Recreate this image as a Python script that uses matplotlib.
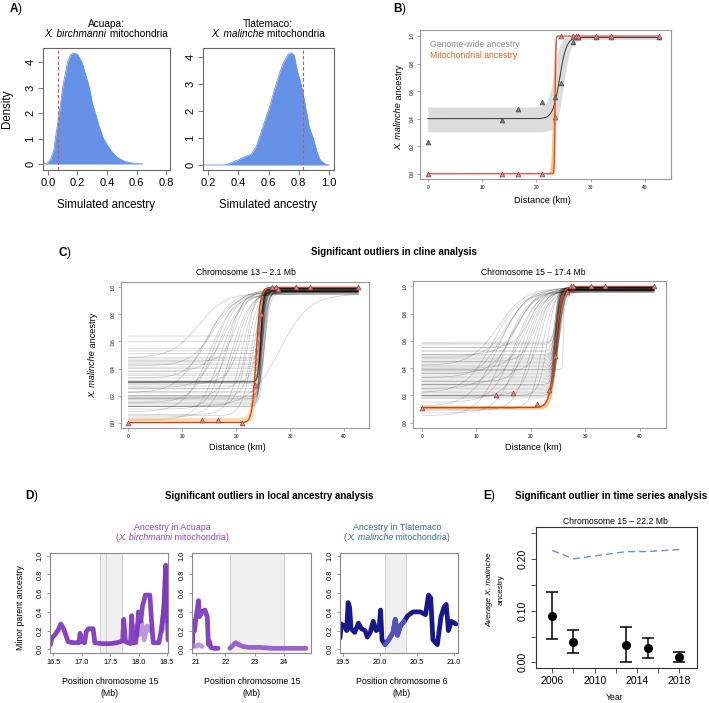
import numpy as np
import matplotlib
matplotlib.use("Agg")
import matplotlib.pyplot as plt

plt.rcParams['font.family'] = ['Liberation Sans', 'DejaVu Sans']
plt.rcParams['mathtext.fontset'] = 'custom'
plt.rcParams['mathtext.rm'] = 'Liberation Sans'
plt.rcParams['mathtext.it'] = 'Liberation Sans:italic'
plt.rcParams['mathtext.bf'] = 'Liberation Sans:bold'

# ---------------- DATA ----------------
# Panel A: simulated ancestry densities
acuapa_x = [-0.03, 0.0, 0.02, 0.04, 0.05, 0.077, 0.10, 0.133, 0.155, 0.177, 0.20, 0.23, 0.255,
            0.28, 0.30, 0.32, 0.345, 0.375, 0.40, 0.43, 0.47, 0.52, 0.57, 0.64]
acuapa_d = [0.0, 0.05, 0.2, 0.55, 1.0, 2.0, 3.0, 4.0, 4.3, 4.35, 4.3, 4.0, 3.5,
            3.0, 2.4, 2.0, 1.5, 1.0, 0.75, 0.5, 0.25, 0.1, 0.04, 0.0]
acuapa_obs = 0.07
tlat_x = [0.17, 0.30, 0.33, 0.37, 0.41, 0.45, 0.49, 0.52, 0.55, 0.58, 0.61, 0.64, 0.67, 0.70,
          0.73, 0.75, 0.77, 0.79, 0.81, 0.83, 0.85, 0.87, 0.895, 0.92, 0.94, 0.97, 1.0]
tlat_d = [0.0, 0.0, 0.03, 0.12, 0.22, 0.32, 0.42, 0.7, 1.2, 1.7, 2.2, 2.8, 3.35, 3.8,
          4.1, 4.15, 4.05, 3.5, 3.1, 2.6, 2.0, 1.4, 1.0, 0.5, 0.2, 0.05, 0.0]
tlat_obs = 0.825

# Sampling sites (km) and observed ancestry
sites = [0, 13.6, 16.7, 21.1, 23.4, 24.5, 26.7, 27.3, 27.7, 31.0, 33.7, 42.6]
genome_wide = [0.23, 0.39, 0.47, 0.52, 0.56, 0.66, 0.96, 0.99, 0.99, 0.99, 0.99, 0.99]
mito = [0.0, 0.0, 0.0, 0.0, 0.41, 1.0, 1.0, 1.0, 1.0, 1.0, 1.0, 1.0]
chr13_obs = [0.0, 0.02, 0.02, 0.0, 0.28, 0.80, 1.0, 1.0, 0.985, 1.0, 1.0, 1.0]
chr15_obs = [0.11, 0.205, 0.215, 0.14, 0.24, 0.49, 0.96, 1.0, 1.0, 1.0, 1.0, 1.0]

# Cline fits: (pmin, pmax, center, width)
gw_fit = (0.40, 0.99, 24.3, 2.5)
gw_band_hi = (0.485, 1.0, 23.3, 2.2)
gw_band_lo = (0.305, 0.975, 25.0, 2.5)
mito_fit = (0.0, 1.0, 23.45, 0.25)
mito_band_hi = (0.0, 1.0, 23.0, 0.6)
mito_band_lo = (0.0, 1.0, 23.55, 0.2)

chr13_fit = (0.0, 1.0, 23.7, 1.5)
chr13_band_hi = (0.035, 1.0, 23.4, 1.6)
chr13_band_lo = (0.0, 0.985, 24.0, 1.4)
chr15_fit = (0.11, 1.0, 24.5, 2.2)
chr15_band_hi = (0.125, 1.0, 24.3, 2.2)
chr15_band_lo = (0.10, 0.99, 24.8, 2.0)

c13_pmin = [0.64, 0.60, 0.55, 0.53, 0.51, 0.48, 0.47, 0.46, 0.44, 0.43, 0.41, 0.40, 0.38, 0.36, 0.35,
            0.33, 0.31, 0.30, 0.30, 0.30, 0.30, 0.30, 0.30, 0.30, 0.29, 0.27, 0.25, 0.23, 0.22, 0.20,
            0.19, 0.19, 0.18, 0.18, 0.17, 0.16, 0.15, 0.14, 0.13, 0.12, 0.12,
            0.02, 0.04, 0.06, 0.08, 0.10, 0.12, 0.15, 0.18, 0.22, 0.26, 0.28, 0.30, 0.33, 0.38, 0.42,
            0.45, 0.48, 0.25, 0.20, 0.12, 0.30, 0.05]
c13_pmax = [0.97, 0.96, 0.98, 0.97, 0.99, 0.98, 0.96, 0.98, 0.97, 0.99, 0.98, 0.97, 0.99, 0.98, 0.97,
            0.99, 0.98, 0.99, 0.99, 0.99, 0.99, 0.99, 0.99, 0.99, 0.98, 0.97, 0.99, 0.98, 0.96, 0.99,
            0.98, 0.97, 0.99, 0.98, 0.97, 0.99, 0.98, 0.96, 0.99, 0.98, 0.97,
            0.96, 0.97, 0.98, 0.95, 0.97, 0.96, 0.98, 0.97, 0.95, 0.96, 0.98, 0.97, 0.96, 0.95, 0.97,
            0.98, 0.96, 0.97, 0.98, 0.95, 0.98, 0.97]
c13_center = [24.6, 24.9, 24.4, 24.7, 24.3, 24.8, 25.1, 24.5, 24.9, 24.4, 25.2, 24.6, 24.8, 25.0, 24.5,
              24.7, 24.6, 24.5, 24.6, 24.7, 24.5, 24.6, 24.8, 24.6, 24.9, 24.5, 25.0, 24.7, 25.3, 24.6,
              24.8, 25.1, 24.5, 24.9, 25.2, 24.7, 24.6, 25.0, 24.8, 24.5, 25.2,
              17, 19, 21, 15, 18, 22, 16, 20, 14, 17, 19, 21, 15, 18, 16, 20, 13, 22, 23, 28, 24, 23]
c13_width = [1.4, 1.6, 1.1, 1.3, 1.0, 1.5, 1.8, 1.2, 1.4, 1.0, 1.9, 1.2, 1.3, 1.6, 1.1,
             1.2, 1.1, 1.0, 1.0, 1.1, 1.0, 1.0, 1.2, 1.0, 1.3, 1.1, 1.5, 1.2, 2.0, 1.1,
             1.4, 1.7, 1.0, 1.3, 1.8, 1.2, 1.1, 1.5, 1.3, 1.0, 1.6,
             8, 7, 5, 9, 6, 4, 8, 6, 10, 7, 5, 5, 8, 7, 9, 5, 10, 3, 3, 11, 2.5, 4]

c15_pmin = [0.59, 0.58, 0.57, 0.55, 0.53, 0.52, 0.50, 0.49, 0.48, 0.47, 0.46, 0.45, 0.44, 0.43, 0.42,
            0.41, 0.40, 0.39, 0.38, 0.37, 0.36, 0.35, 0.34, 0.33, 0.32, 0.31, 0.30, 0.29, 0.28, 0.28,
            0.27, 0.26, 0.25, 0.24, 0.23, 0.22, 0.21, 0.20, 0.20, 0.19, 0.18,
            0.05, 0.07, 0.09, 0.12, 0.15, 0.18, 0.20, 0.22, 0.25, 0.28, 0.30, 0.33, 0.36, 0.40, 0.42,
            0.45, 0.48, 0.50, 0.38, 0.20, 0.10, 0.55, 0.39]
c15_pmax = [0.99, 0.98, 0.97, 0.99, 0.98, 0.96, 0.99, 0.98, 0.97, 0.99, 0.98, 0.99, 0.97, 0.98, 0.99,
            0.96, 0.98, 0.99, 0.97, 0.98, 0.99, 0.98, 0.97, 0.99, 0.98, 0.96, 0.99, 0.98, 0.97, 0.99,
            0.98, 0.99, 0.97, 0.98, 0.99, 0.96, 0.98, 0.99, 0.97, 0.98, 0.99,
            0.97, 0.98, 0.96, 0.99, 0.97, 0.98, 0.99, 0.96, 0.97, 0.98, 0.99, 0.97, 0.98, 0.96, 0.99,
            0.97, 0.98, 0.99, 0.97, 0.98, 0.96, 0.99, 0.99]
c15_center = [24.8, 25.2, 24.5, 25.0, 24.7, 25.4, 24.6, 24.9, 25.3, 24.4, 24.8, 25.1, 24.6, 25.0, 24.7,
              25.5, 24.9, 24.5, 25.2, 24.8, 24.6, 25.0, 24.7, 25.3, 24.5, 24.9, 24.6, 25.1, 24.8, 24.4,
              25.0, 24.7, 25.2, 24.6, 24.9, 24.5, 25.1, 24.8, 24.6, 25.0, 24.7,
              15, 18, 20, 14, 17, 19, 21, 13, 16, 18, 20, 15, 17, 19, 14, 21, 16, 18, 22, 23, 22, 20, 26.0]
c15_width = [1.6, 2.0, 1.4, 1.8, 1.5, 2.2, 1.3, 1.7, 2.1, 1.2, 1.6, 1.9, 1.4, 1.8, 1.5,
             2.3, 1.7, 1.3, 2.0, 1.6, 1.4, 1.8, 1.5, 2.1, 1.3, 1.7, 1.4, 1.9, 1.6, 1.2,
             1.8, 1.5, 2.0, 1.4, 1.7, 1.3, 1.9, 1.6, 1.4, 1.8, 1.5,
             9, 8, 6, 10, 8, 7, 5, 10, 9, 7, 6, 9, 8, 6, 10, 5, 8, 7, 4, 3, 4, 6, 0.3]

# Panel D: local ancestry traces (position Mb, minor parent ancestry)
d1_pos = [16.45, 16.47, 16.52, 16.58, 16.63, 16.68, 16.72, 16.76, 16.85, 16.95, 16.97, 17.00, 17.05,
          17.08, 17.12, 17.20, 17.23, 17.35, 17.50, 17.62, 17.72, 17.74, 17.77, 17.86, 17.88, 17.90,
          17.95, 17.98, 18.00, 18.04, 18.07, 18.12, 18.20, 18.23, 18.26, 18.36, 18.40, 18.45, 18.48,
          18.50, 18.52]
d1_val = [0.05, 0.12, 0.15, 0.20, 0.27, 0.22, 0.15, 0.08, 0.07, 0.07, 0.17, 0.08, 0.07,
          0.19, 0.22, 0.22, 0.07, 0.06, 0.06, 0.07, 0.09, 0.32, 0.08, 0.06, 0.36, 0.07,
          0.07, 0.22, 0.40, 0.30, 0.46, 0.58, 0.58, 0.30, 0.07, 0.07, 0.20, 0.45, 0.90,
          0.60, 0.10]
d1_alt_pos = [17.95, 18.00, 18.05, 18.10, 18.15, 18.20, 18.42, 18.45, 18.47, 18.49, 18.50]
d1_alt_val = [0.25, 0.15, 0.30, 0.10, 0.25, 0.20, 0.20, 0.50, 0.75, 0.85, 0.30]
d1_region = (17.32, 17.71, 17.43)

d2a_pos = [20.88, 20.90, 20.95, 21.00, 21.05, 21.08, 21.12, 21.20, 21.30, 21.38, 21.42, 21.46, 21.50, 21.60, 21.75]
d2a_val = [0.03, 0.30, 0.20, 0.35, 0.45, 0.52, 0.35, 0.40, 0.42, 0.35, 0.05, 0.08, 0.02, 0.01, 0.01]
d2b_pos = [22.15, 22.25, 22.35, 22.45, 22.60, 22.80, 23.20, 23.60, 24.00, 24.40, 24.75]
d2b_val = [0.01, 0.04, 0.07, 0.05, 0.03, 0.02, 0.02, 0.01, 0.01, 0.01, 0.01]
d2_alt_pos = [20.88, 20.95, 21.00, 21.10, 21.20]
d2_alt_val = [0.03, 0.04, 0.03, 0.05, 0.03]
d2_region = (22.17, 24.0)

d3_pos = [19.46, 19.48, 19.53, 19.55, 19.57, 19.59, 19.61, 19.66, 19.71, 19.75, 19.80, 19.83, 19.87,
          19.91, 19.95, 19.99, 20.01, 20.03, 20.07, 20.12, 20.18, 20.21, 20.24, 20.28, 20.33, 20.38,
          20.45, 20.55, 20.62, 20.66, 20.69, 20.72, 20.78, 20.83, 20.87, 20.90, 20.93, 20.97, 21.03]
d3_val = [0.12, 0.27, 0.24, 0.20, 0.50, 0.45, 0.22, 0.18, 0.28, 0.22, 0.20, 0.13, 0.18,
          0.30, 0.20, 0.22, 0.42, 0.10, 0.05, 0.10, 0.18, 0.32, 0.15, 0.25, 0.30, 0.36,
          0.40, 0.40, 0.37, 0.58, 0.55, 0.10, 0.05, 0.35, 0.45, 0.48, 0.20, 0.30, 0.27]
d3_region = (20.07, 20.35)

# Panel E: time series
years = [2006, 2008, 2013, 2015, 2018]
mean_anc = [0.090, 0.040, 0.034, 0.028, 0.010]
ci_lo = [0.045, 0.018, 0.000, 0.009, 0.000]
ci_hi = [0.135, 0.063, 0.068, 0.047, 0.021]
expected = [0.216, 0.200, 0.214, 0.214, 0.218]

# ---------------- FIGURE ----------------
W, H = 709, 703
fig = plt.figure(figsize=(W / 100, H / 100), dpi=100)
renderer = fig.canvas.get_renderer()


def box(l, t, r, b):
    return fig.add_axes([l / W, 1 - b / H, (r - l) / W, (b - t) / H])


def T(x, y, s, **kw):
    kw.setdefault('ha', 'center')
    kw.setdefault('va', 'center')
    fig.text(x / W, 1 - y / H, s, **kw)


def rich(x, y, runs, fontsize, color='black', rotation=0):
    """Draw text runs [(string, fontstyle), ...] centred on pixel (x, y)."""
    texts, sizes = [], []
    for s, st in runs:
        if rotation == 0:
            t = fig.text(0, 0, s, fontsize=fontsize, fontstyle=st, color=color, ha='left', va='center')
            sizes.append(t.get_window_extent(renderer).width)
        else:
            t = fig.text(0, 0, s, fontsize=fontsize, fontstyle=st, color=color, rotation=90,
                         ha='center', va='bottom')
            sizes.append(t.get_window_extent(renderer).height)
        texts.append(t)
    total = sum(sizes)
    pos = -total / 2
    for t, sz in zip(texts, sizes):
        if rotation == 0:
            t.set_position(((x + pos) / W, 1 - y / H))
        else:
            t.set_position((x / W, (H - y + pos) / H))
        pos += sz


def style(ax, color='#777777', lw=0.8, fs=5, length=2.5, pad=1.5):
    for s in ax.spines.values():
        s.set_color(color)
        s.set_linewidth(lw)
    ax.tick_params(direction='out', length=length, width=0.6, color=color,
                   labelsize=fs, pad=pad)


def cline(x, p):
    pmin, pmax, c, w = p
    return pmin + (pmax - pmin) / (1 + np.exp(-4 * (x - c) / w))


BLUE = '#6592e6'
RED_D = '#d9534f'

# ---- Panel A ----
T(9, 9, r"$\mathbf{A}$)", ha='left', fontsize=8.5)
axA1 = box(43, 48, 170, 170)
axA1.fill_between(acuapa_x, acuapa_d, color=BLUE, lw=0)
axA1.plot(acuapa_x, acuapa_d, color=BLUE, lw=0.6)
axA1.axvline(acuapa_obs, color=RED_D, ls=(0, (3, 2)), lw=0.8)
axA1.set_xlim(-0.033, 0.825)
axA1.set_ylim(-0.235, 4.55)
axA1.set_xticks([0, 0.2, 0.4, 0.6, 0.8], ['0.0', '0.2', '0.4', '0.6', '0.8'])
axA1.set_yticks([0, 1, 2, 3, 4], ['0', '1', '2', '3', '4'], rotation=90, va='center')
style(axA1, color='#666666', fs=8, length=3.5, pad=2)

axA2 = box(203, 48, 334, 170)
axA2.fill_between(tlat_x, tlat_d, color=BLUE, lw=0)
axA2.plot(tlat_x, tlat_d, color=BLUE, lw=0.6)
axA2.axvline(tlat_obs, color=RED_D, ls=(0, (3, 2)), lw=0.8)
axA2.set_xlim(0.167, 1.033)
axA2.set_ylim(-0.185, 4.33)
axA2.set_xticks([0.2, 0.4, 0.6, 0.8, 1.0], ['0.2', '0.4', '0.6', '0.8', '1.0'])
axA2.set_yticks([0, 1, 2, 3, 4], ['0', '1', '2', '3', '4'], rotation=90, va='center')
style(axA2, color='#666666', fs=8, length=3.5, pad=2)

T(106, 24, "Acuapa:", fontsize=7.3)
rich(106, 34, [("X. birchmanni", 'italic'), (" mitochondria", 'normal')], 7.3)
T(268, 24, "Tlatemaco:", fontsize=7.3)
rich(268, 34, [("X. malinche", 'italic'), (" mitochondria", 'normal')], 7.3)
T(106, 205, "Simulated ancestry", fontsize=8.3)
T(268, 205, "Simulated ancestry", fontsize=8.3)
T(7, 109, "Density", fontsize=8.3, rotation=90)

# ---- Panel B ----
T(393, 9, r"$\mathbf{B}$)", ha='left', fontsize=8.5)
axB = box(420, 30, 671, 179)
xs = np.linspace(0, 42.6, 600)
axB.fill_between(xs, cline(xs, gw_band_lo), cline(xs, gw_band_hi), color='#dcdcdc', lw=0)
axB.plot(xs, cline(xs, gw_fit), color='#333333', lw=0.7)
axB.fill_between(xs, cline(xs, mito_band_lo), cline(xs, mito_band_hi), color='#fbc374', lw=0)
axB.plot(xs, cline(xs, mito_fit), color='#e2463d', lw=0.9)
axB.plot(sites, genome_wide, ls='none', marker='^', ms=3.5, mfc='#7a7a7a', mec='#4d4d4d', mew=0.5)
axB.plot(sites, mito, ls='none', marker='^', ms=3.5, mfc='#d58a8a', mec='#a0403a', mew=0.5)
axB.set_xlim(-1.42, 44.8)
axB.set_ylim(-0.038, 1.044)
axB.set_xticks([0, 10, 20, 30, 40])
axB.set_yticks([0, 0.2, 0.4, 0.6, 0.8, 1.0], ['0.0', '0.2', '0.4', '0.6', '0.8', '1.0'],
               rotation=90, va='center')
style(axB, color='#999999', fs=3.5, length=2, pad=2)
axB.text(0.04, 0.885, "Genome-wide ancestry", transform=axB.transAxes, color='#8c8c8c', fontsize=6.2)
axB.text(0.04, 0.815, "Mitochondrial ancestry", transform=axB.transAxes, color='#d2691e', fontsize=6.2)
rich(399, 107, [("X. malinche", 'italic'), (" ancestry", 'normal')], 6.6, rotation=90)
T(542, 200, "Distance (km)", fontsize=6.6)

# ---- Panel C ----
T(58, 253, r"$\mathbf{C}$)", ha='left', fontsize=8.5)
T(394, 252, "Significant outliers in cline analysis", fontsize=7, fontweight='bold')


def panel_c(ax, pmin, pmax, cen, wid, fit, band_hi, band_lo, obs, band_col):
    for a, b, c, w in zip(pmin, pmax, cen, wid):
        ax.plot(xs, cline(xs, (a, b, c, w)), color='black', alpha=0.2, lw=0.5)
    ax.fill_between(xs, cline(xs, band_lo), cline(xs, band_hi), color=band_col, lw=0, alpha=0.9)
    ax.plot(xs, cline(xs, fit), color='#d93a25', lw=0.9)
    ax.plot(sites, obs, ls='none', marker='^', ms=3.5, mfc='#d58a8a', mec='#a0403a', mew=0.5)
    ax.set_ylim(-0.04, 1.04)
    ax.set_xticks([0, 10, 20, 30, 40])
    ax.set_yticks([0, 0.2, 0.4, 0.6, 0.8, 1.0], ['0.0', '0.2', '0.4', '0.6', '0.8', '1.0'],
                  rotation=90, va='center')
    style(ax, color='#999999', fs=3.5, length=2, pad=2)


axC1 = box(121, 282, 369, 428)
panel_c(axC1, c13_pmin, c13_pmax, c13_center, c13_width, chr13_fit, chr13_band_hi, chr13_band_lo,
        chr13_obs, '#fdd59c')
axC1.set_xlim(-1.35, 44.6)
axC2 = box(413, 281, 666, 428)
panel_c(axC2, c15_pmin, c15_pmax, c15_center, c15_width, chr15_fit, chr15_band_hi, chr15_band_lo,
        chr15_obs, '#f9c070')
axC2.set_xlim(-1.6, 44.8)
T(246, 272, "Chromosome 13 – 2.1 Mb", fontsize=6.2)
T(533, 272, "Chromosome 15 – 17.4 Mb", fontsize=6.2)
rich(93, 355, [("X. malinche", 'italic'), (" ancestry", 'normal')], 6.6, rotation=90)
T(237, 447, "Distance (km)", fontsize=6.6)
T(533, 447, "Distance (km)", fontsize=6.6)

# ---- Panel D ----
T(25, 496, r"$\mathbf{D}$)", ha='left', fontsize=8.5)
T(269, 496, "Significant outliers in local ancestry analysis", fontsize=7, fontweight='bold')
PURPLE = '#7a2fba'
PURPLE_L = '#ab7fd6'
NAVY = '#0b0b85'
NAVY_L = '#5858b8'


def panel_d(ax, xlim, xt, xtl):
    ax.set_xlim(*xlim)
    ax.set_ylim(-0.04, 1.03)
    ax.set_xticks(xt, xtl)
    ax.set_yticks([0, 0.2, 0.4, 0.6, 0.8, 1.0], ['0.0', '0.2', '0.4', '0.6', '0.8', '1.0'],
                  rotation=90, va='center')
    style(ax, color='#888888', fs=5.3, length=2.5, pad=2)


tr = dict(lw=3.4, solid_capstyle='round', solid_joinstyle='round')

axD1 = box(50, 553, 168, 653)
axD1.axvspan(d1_region[0], d1_region[1], color='#efefef', lw=0)
for xv in d1_region:
    axD1.axvline(xv, color='#d0d0d0', lw=0.7)
axD1.plot(d1_alt_pos[:6], d1_alt_val[:6], color=PURPLE_L, alpha=0.8, **tr)
axD1.plot(d1_alt_pos[6:], d1_alt_val[6:], color=PURPLE_L, alpha=0.8, **tr)
axD1.plot(d1_pos, d1_val, color=PURPLE, alpha=0.9, **tr)
panel_d(axD1, (16.44, 18.52), [16.5, 17.0, 17.5, 18.0, 18.5], ['16.5', '17.0', '17.5', '18.0', '18.5'])

axD2 = box(192, 553, 311, 653)
axD2.axvspan(d2_region[0], d2_region[1], color='#efefef', lw=0)
for xv in d2_region:
    axD2.axvline(xv, color='#d0d0d0', lw=0.7)
axD2.plot(d2a_pos, d2a_val, color=PURPLE, alpha=0.9, **tr)
axD2.plot(d2_alt_pos, d2_alt_val, color=PURPLE_L, alpha=0.8, **tr)
axD2.plot(d2b_pos, d2b_val, color='#9150c8', alpha=0.9, **tr)
panel_d(axD2, (20.86, 24.92), [21, 22, 23, 24], ['21', '22', '23', '24'])

axD3 = box(340, 553, 458, 653)
axD3.axvspan(d3_region[0], d3_region[1], color='#efefef', lw=0)
for xv in d3_region:
    axD3.axvline(xv, color='#d0d0d0', lw=0.7)
axD3.plot(d3_pos, d3_val, color=NAVY, alpha=0.95, **tr)
d3p = np.array(d3_pos)
d3v = np.array(d3_val)
inreg = (d3p >= d3_region[0] - 0.03) & (d3p <= d3_region[1])
axD3.plot(d3p[inreg], d3v[inreg], color=NAVY_L, alpha=0.95, **tr)
panel_d(axD3, (19.46, 21.06), [19.5, 20.0, 20.5, 21.0], ['19.5', '20.0', '20.5', '21.0'])

T(172, 527, "Ancestry in Acuapa", fontsize=6.4, color='#8a44c4')
rich(172, 538, [("(", 'normal'), ("X. birchmanni", 'italic'), (" mitochondria)", 'normal')], 6.4,
     color='#8a44c4')
T(397, 527, "Ancestry in Tlatemaco", fontsize=6.4, color='#36698a')
rich(397, 538, [("(", 'normal'), ("X. malinche", 'italic'), (" mitochondria)", 'normal')], 6.4,
     color='#36698a')
T(21, 608, "Minor parent ancestry", rotation=90, fontsize=6.3)
T(110, 682, "Position chromosome 15", fontsize=6.3)
T(110, 693, "(Mb)", fontsize=6.3)
T(252, 682, "Position chromosome 15", fontsize=6.3)
T(252, 693, "(Mb)", fontsize=6.3)
T(402, 682, "Position chromosome 6", fontsize=6.3)
T(402, 693, "(Mb)", fontsize=6.3)

# ---- Panel E ----
T(483, 496, r"$\mathbf{E}$)", ha='left', fontsize=8.5)
T(611, 496, "Significant outlier in time series analysis", fontsize=7.1, fontweight='bold')
axE = box(536, 527, 697, 668)
axE.plot(years, expected, color='#6a8fdc', ls=(0, (5, 3)), lw=1.0)
m = np.array(mean_anc)
axE.errorbar(years, mean_anc, yerr=[m - np.array(ci_lo), np.array(ci_hi) - m], fmt='o',
             color='black', ms=5.5, capsize=4.5, elinewidth=1.1, capthick=1.1)
axE.set_xlim(2004.46, 2019.67)
axE.set_ylim(-0.0108, 0.2614)
axE.set_xticks([2006, 2008, 2010, 2012, 2014, 2016, 2018],
               ['2006', '', '2010', '', '2014', '', '2018'])
axE.set_yticks([0, 0.05, 0.10, 0.15, 0.20, 0.25], ['0.00', '', '0.10', '', '0.20', ''],
               rotation=90, va='center')
style(axE, color='#333333', fs=7.6, length=3.5, pad=2.5)
T(615, 521, "Chromosome 15 – 22.2 Mb", fontsize=6.2)
T(490, 590, "Average X. malinche", rotation=90, fontsize=5.9, fontstyle='italic')
T(501, 590, "ancestry", rotation=90, fontsize=5.9)
T(615, 697, "Year", fontsize=6.2)

fig.savefig("out.png", dpi=100)
